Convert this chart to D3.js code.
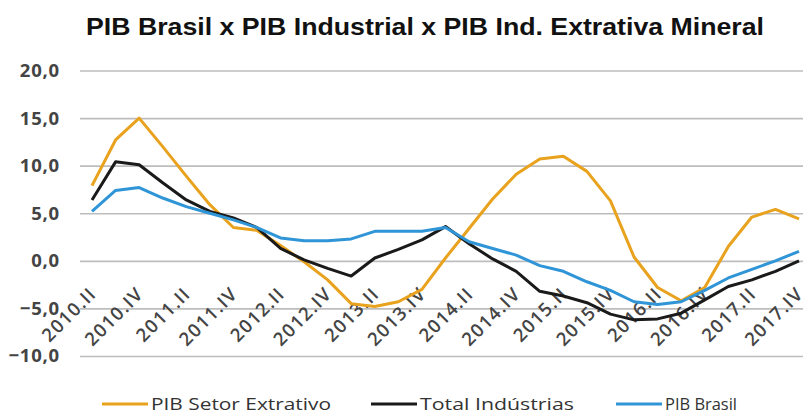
<!DOCTYPE html>
<html>
<head>
<meta charset="utf-8">
<script src="https://cdn.jsdelivr.net/npm/d3@7"></script>
<style>
  html, body { margin: 0; padding: 0; background: #fff; }
  svg { display: block; }
</style>
</head>
<body>
<svg id="chart" width="803" height="414"></svg>
<script>
const quarters = [
  "2010.II","2010.III","2010.IV","2011.I","2011.II","2011.III","2011.IV","2012.I",
  "2012.II","2012.III","2012.IV","2013.I","2013.II","2013.III","2013.IV","2014.I",
  "2014.II","2014.III","2014.IV","2015.I","2015.II","2015.III","2015.IV","2016.I",
  "2016.II","2016.III","2016.IV","2017.I","2017.II","2017.III","2017.IV"
];
const extrativo = [7.9,12.7,15.0,12.0,8.9,5.9,3.5,3.2,1.6,-0.1,-2.0,-4.5,-4.8,-4.3,-3.0,0.3,
  3.4,6.5,9.1,10.7,11.0,9.4,6.3,0.4,-2.8,-4.2,-2.8,1.5,4.6,5.4,4.4];
const industrias = [6.4,10.4,10.1,8.2,6.4,5.2,4.5,3.5,1.3,0.1,-0.8,-1.6,0.3,1.2,2.2,3.6,
  1.8,0.2,-1.1,-3.2,-3.7,-4.4,-5.6,-6.2,-6.1,-5.5,-4.1,-2.7,-2.0,-1.1,0.0];
const brasil = [5.2,7.4,7.7,6.6,5.7,5.0,4.3,3.5,2.4,2.1,2.1,2.3,3.1,3.1,3.1,3.5,
  2.0,1.3,0.6,-0.5,-1.1,-2.2,-3.1,-4.3,-4.6,-4.3,-3.1,-1.8,-0.9,0.0,1.0];
const yTicks = [-10,-5,0,5,10,15,20];
const seriesNames = ["PIB Setor Extrativo","Total Indústrias","PIB Brasil"];
const title = "PIB Brasil x PIB Industrial x PIB Ind. Extrativa Mineral";

const colors = ["#E9A21D","#1a1a1a","#2F95D7"];
const svg = d3.select("#chart");

const x = d3.scalePoint().domain(quarters).range([92, 799]);
const y = d3.scaleLinear().domain([-10, 20]).range([356, 70.5]);

// title
svg.append("text")
  .attr("x", 425).attr("y", 35)
  .attr("text-anchor", "middle")
  .attr("font-family", "'Liberation Sans Narrow', 'Arial Narrow', 'Liberation Sans', sans-serif")
  .attr("font-weight", "bold")
  .attr("font-size", 23)
  .attr("fill", "#111")
  .attr("textLength", 678)
  .attr("lengthAdjust", "spacingAndGlyphs")
  .text(title);

// grid + y labels
const yAxis = d3.axisLeft(y).tickValues(yTicks).tickSize(-723)
  .tickFormat(d => d3.format(".1f")(d).replace(".", ","));
const gy = svg.append("g").attr("transform", "translate(80,0)").call(yAxis);
gy.select(".domain").remove();
gy.selectAll(".tick line").attr("stroke", "#bdbdbd").attr("stroke-width", 1.6);
gy.selectAll(".tick text")
  .attr("x", -20)
  .attr("font-family", "'Open Sans', 'Noto Sans', sans-serif")
  .attr("font-weight", "bold")
  .attr("font-size", 18.5)
  .attr("letter-spacing", 0.8)
  .attr("fill", "#444");

// x axis labels
const xAxis = d3.axisBottom(x)
  .tickValues(quarters.filter((q, i) => i % 2 === 0))
  .tickSize(0);
const gx = svg.append("g").attr("transform", "translate(0,261)").call(xAxis);
gx.select(".domain").remove();
gx.selectAll(".tick text")
  .attr("text-anchor", "end")
  .attr("font-family", "'Open Sans', 'Noto Sans', sans-serif")
  .attr("font-size", 18.5)
  .attr("font-weight", 600)
  .attr("letter-spacing", 1.3)
  .attr("fill", "#444")
  .attr("dy", 0)
  .attr("y", 0)
  .attr("transform", "translate(5,34) rotate(-45)");

// lines
const line = d3.line().x((d, i) => x(quarters[i])).y(d => y(d));
[extrativo, industrias, brasil].forEach((s, k) => {
  svg.append("path")
    .datum(s)
    .attr("fill", "none")
    .attr("stroke", colors[k])
    .attr("stroke-width", 3)
    .attr("stroke-linejoin", "round")
    .attr("d", line);
});

// legend
const legendX = [102, 371, 616];
const legendW = [180, 154, 72];
seriesNames.forEach((n, k) => {
  const g = svg.append("g").attr("transform", `translate(${legendX[k]},404)`);
  g.append("line").attr("x1", 0).attr("x2", 46).attr("y1", 0).attr("y2", 0)
    .attr("stroke", colors[k]).attr("stroke-width", 3);
  g.append("text").attr("x", 49).attr("y", 6)
    .attr("font-family", "'Open Sans', 'Noto Sans', sans-serif")
    .attr("font-size", 16.5)
    .attr("fill", "#333")
    .attr("textLength", legendW[k])
    .attr("lengthAdjust", "spacingAndGlyphs")
    .text(n);
});
</script>
</body>
</html>
